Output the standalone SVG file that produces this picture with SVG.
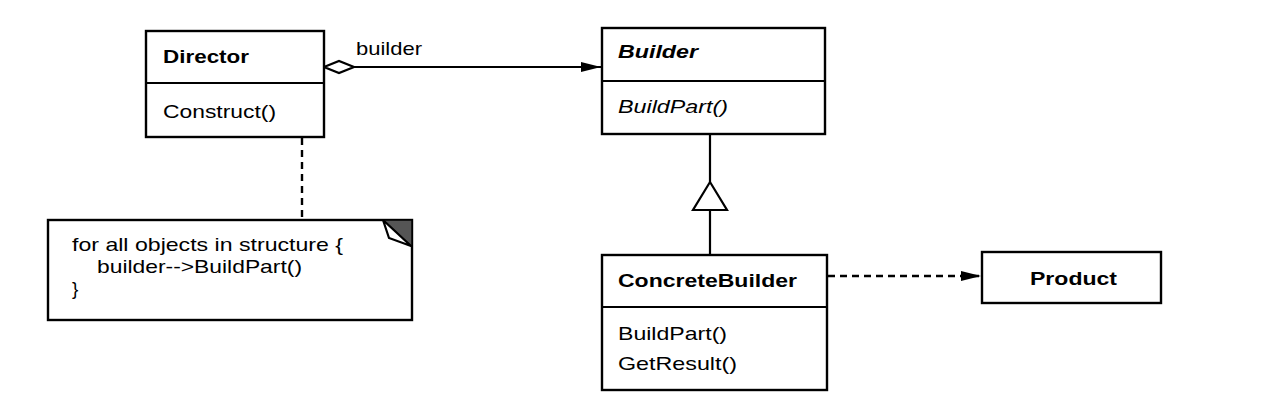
<svg xmlns="http://www.w3.org/2000/svg" width="1272" height="406" viewBox="0 0 1272 406">
<style>
.box{fill:#fff;stroke:#000;stroke-width:2.4}
.ln{fill:none;stroke:#000;stroke-width:2.2}
.dash{fill:none;stroke:#000;stroke-width:2.4;stroke-dasharray:7 5}
text{font-family:"Liberation Sans",Arial,Helvetica,sans-serif;font-size:19px;fill:#000}
.b{font-weight:bold}
.i{font-style:italic}
</style>
<defs>
<marker id="arrow" viewBox="0 0 20 12" refX="20" refY="6" markerWidth="20" markerHeight="12" markerUnits="userSpaceOnUse" orient="auto">
<path d="M0,1 L20,6 L0,11 z" fill="#000"/>
</marker>
</defs>
<rect width="1272" height="406" fill="#fff"/>
<g id="connectors">
<path class="ln" d="M354,67 H601" marker-end="url(#arrow)"/>
<path d="M324,67 L339,61 L354,67 L339,73 z" fill="#fff" stroke="#000" stroke-width="2.2"/>
<path class="ln" d="M710,134 V182 M710,210 V255"/>
<path d="M710,182 L727,210 L693,210 z" fill="#fff" stroke="#000" stroke-width="2.2"/>
<path class="dash" d="M828,276 H981" marker-end="url(#arrow)"/>
<path class="dash" d="M302,138 V220"/>
<circle cx="302" cy="113" r="4.5" fill="#fff" stroke="#000" stroke-width="2.2"/>
<path class="ln" d="M302,117.5 V135"/>
</g>
<g id="director">
<rect class="box" x="146" y="31" width="178" height="106"/>
<path class="ln" d="M146,83 H324"/>
<text class="b" x="163" y="63" textLength="86" lengthAdjust="spacingAndGlyphs">Director</text>
<text x="163" y="118" textLength="113" lengthAdjust="spacingAndGlyphs">Construct()</text>
</g>
<text x="356" y="55" textLength="66" lengthAdjust="spacingAndGlyphs">builder</text>
<g id="builder">
<rect class="box" x="602" y="28" width="223" height="106"/>
<path class="ln" d="M602,81 H825"/>
<text class="b i" x="618" y="58" textLength="80" lengthAdjust="spacingAndGlyphs">Builder</text>
<text class="i" x="618" y="113" textLength="110" lengthAdjust="spacingAndGlyphs">BuildPart()</text>
</g>
<g id="concretebuilder">
<rect class="box" x="602" y="255" width="225" height="135"/>
<path class="ln" d="M602,307 H827"/>
<text class="b" x="618" y="287" textLength="179" lengthAdjust="spacingAndGlyphs">ConcreteBuilder</text>
<text x="618" y="340" textLength="109" lengthAdjust="spacingAndGlyphs">BuildPart()</text>
<text x="618" y="370" textLength="119" lengthAdjust="spacingAndGlyphs">GetResult()</text>
</g>
<g id="product">
<rect class="box" x="982" y="252" width="179" height="51"/>
<text class="b" x="1030" y="285" textLength="87" lengthAdjust="spacingAndGlyphs">Product</text>
</g>
<g id="note">
<rect class="box" x="48" y="220" width="364" height="100"/>
<path d="M383,220 L412,220 L412,247 z" fill="#555" stroke="#000" stroke-width="1.5"/>
<path d="M383,220 L389,238 L411,246 z" fill="#fff" stroke="#000" stroke-width="2.2"/>
<text x="72" y="251" textLength="271" lengthAdjust="spacingAndGlyphs">for all objects in structure {</text>
<text x="97" y="273" textLength="205" lengthAdjust="spacingAndGlyphs">builder--&gt;BuildPart()</text>
<text x="72" y="295">}</text>
</g>
</svg>
